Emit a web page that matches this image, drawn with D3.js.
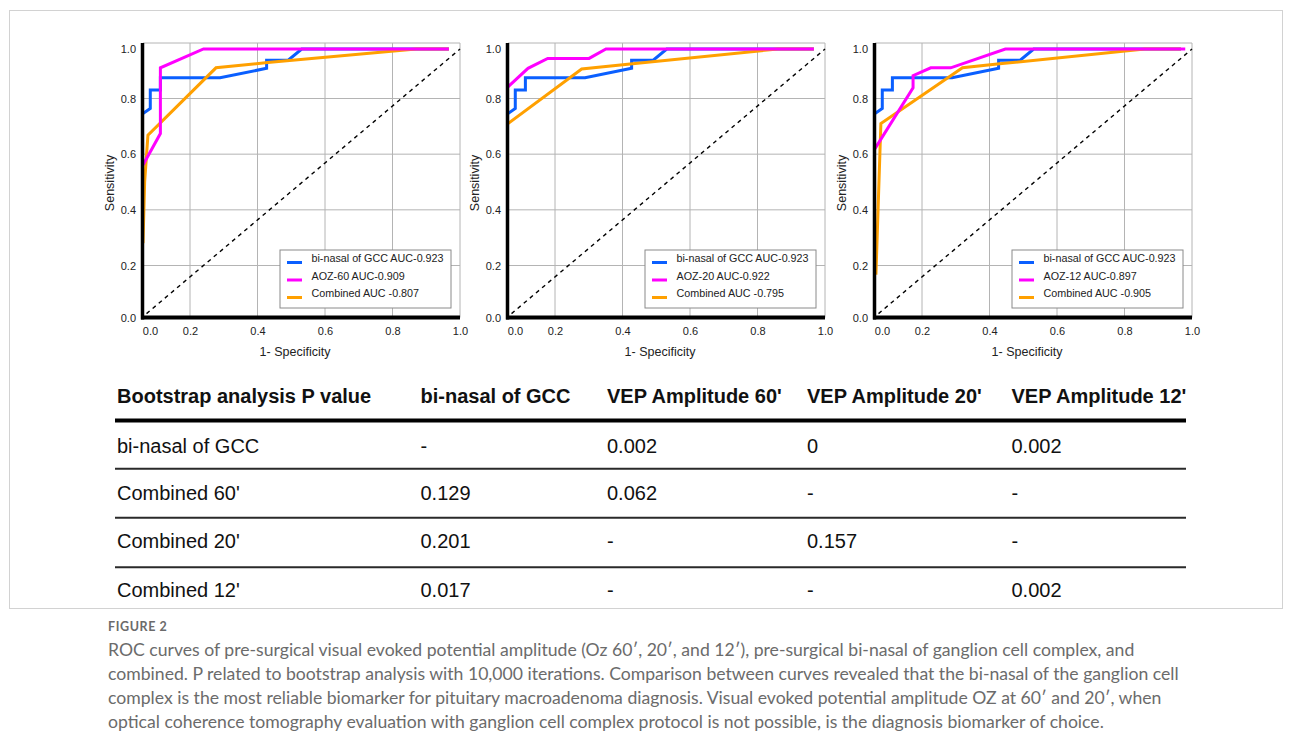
<!DOCTYPE html>
<html lang="en">
<head>
  <meta charset="UTF-8">
  <script src="https://d3js.org/d3.v7.min.js"></script>
  <title>ROC curves</title>
  <style>
    body { margin: 0; background: #fff; }
    text { font-family: "Liberation Sans", Arial, sans-serif; }
    text.caption { font-family: Lato, "Open Sans", sans-serif; }
  </style>
</head>
<body>
  <script>
    // ROC points [1 - specificity, sensitivity]
    const gccCurve = [[0, 0.746], [0.031, 0.764], [0.031, 0.834], [0.074, 0.834], [0.074, 0.884],
      [0.289, 0.884], [0.427, 0.922], [0.427, 0.955], [0.491, 0.955], [0.531, 1.0], [0.967, 1.0]]

    const aoz60Curve = [[0, 0.561], [0.074, 0.674], [0.074, 0.924], [0.24, 1.0], [0.967, 1.0]]
    const comb60Curve = [[0, 0.28], [0.007, 0.5], [0.021, 0.668], [0.277, 0.924], [0.43, 0.945],
      [0.87, 1.0], [0.967, 1.0]]

    const aoz20Curve = [[0, 0.847], [0.085, 0.922], [0.169, 0.962], [0.301, 0.962], [0.351, 1.0], [0.967, 1.0]]
    const comb20Curve = [[0, 0.71], [0.279, 0.919], [0.43, 0.94], [0.86, 1.0], [0.967, 1.0]]

    const aoz12Curve = [[0, 0.62], [0.162, 0.843], [0.162, 0.892], [0.226, 0.924], [0.285, 0.924],
      [0.447, 1.0], [0.98, 1.0]]
    const comb12Curve = [[0.004, 0.165], [0.025, 0.71], [0.32, 0.924], [0.43, 0.94], [0.86, 1.0], [0.967, 1.0]]

    const refLine = [[0.015, 0.015], [1, 1]]

    const legend60 = ["bi-nasal of GCC AUC-0.923", "AOZ-60 AUC-0.909", "Combined AUC -0.807"]
    const legend20 = ["bi-nasal of GCC AUC-0.923", "AOZ-20 AUC-0.922", "Combined AUC -0.795"]
    const legend12 = ["bi-nasal of GCC AUC-0.923", "AOZ-12 AUC-0.897", "Combined AUC -0.905"]

    const xTicks = [0, 0.2, 0.4, 0.6, 0.8, 1.0]
    const yTicks = [0, 0.2, 0.4, 0.6, 0.8, 1.0]
    const gridTicks = [0.2, 0.4, 0.6, 0.8]

    const tableHeader = ["Bootstrap analysis P value", "bi-nasal of GCC", "VEP Amplitude 60'", "VEP Amplitude 20'", "VEP Amplitude 12'"]
    const tableRows = [
      ["bi-nasal of GCC", "-", "0.002", "0", "0.002"],
      ["Combined 60'", "0.129", "0.062", "-", "-"],
      ["Combined 20'", "0.201", "-", "0.157", "-"],
      ["Combined 12'", "0.017", "-", "-", "0.002"]
    ]

    const figureLabel = "FIGURE 2"
    const captionLines = [
      "ROC curves of pre-surgical visual evoked potential amplitude (Oz 60\u2032, 20\u2032, and 12\u2032), pre-surgical bi-nasal of ganglion cell complex, and",
      "combined. P related to bootstrap analysis with 10,000 iterations. Comparison between curves revealed that the bi-nasal of the ganglion cell",
      "complex is the most reliable biomarker for pituitary macroadenoma diagnosis. Visual evoked potential amplitude OZ at 60\u2032 and 20\u2032, when",
      "optical coherence tomography evaluation with ganglion cell complex protocol is not possible, is the diagnosis biomarker of choice."
    ]

    const colors = { gcc: "#0a5fff", aoz: "#ff00ff", comb: "#ffa000" }

    const panels = [
      { left: 143, aoz: aoz60Curve, comb: comb60Curve, legend: legend60 },
      { left: 508, aoz: aoz20Curve, comb: comb20Curve, legend: legend20 },
      { left: 875, aoz: aoz12Curve, comb: comb12Curve, legend: legend12 }
    ]

    const width = 1292
    const height = 751

    const svg = d3.select("body")
        .append("svg")
        .attr("width", width)
        .attr("height", height)

    // light frame round the figure image
    svg.append("rect")
        .attr("x", 9.5).attr("y", 10.5)
        .attr("width", 1273).attr("height", 598)
        .attr("fill", "none")
        .attr("stroke", "#d2d2d2")

    // the original plot has a squeezed first interval on x and slightly short end intervals on y
    const yScale = d3.scaleLinear()
        .domain([0, 0.2, 0.8, 1, 1.025])
        .range([317.5, 265.5, 98.5, 49, 43])

    panels.forEach((p) => {
      const xScale = d3.scaleLinear()
          .domain([0, 0.2, 1])
          .range([p.left, p.left + 47, p.left + 317])

      const g = svg.append("g")
      const top = yScale(1.025)
      const bottom = yScale(0)
      const right = xScale(1)

      // grid
      g.selectAll(".vgrid")
        .data(gridTicks.concat([1]))
        .join("line")
          .attr("x1", d => xScale(d)).attr("x2", d => xScale(d))
          .attr("y1", top).attr("y2", bottom)
          .attr("stroke", "#b4b4b4")
          .attr("stroke-width", 1)

      g.selectAll(".hgrid")
        .data(gridTicks.concat([1.025]))
        .join("line")
          .attr("x1", xScale(0)).attr("x2", right)
          .attr("y1", d => yScale(d)).attr("y2", d => yScale(d))
          .attr("stroke", "#b4b4b4")
          .attr("stroke-width", 1)

      // tick labels
      const yAxis = g.append("g")
          .attr("transform", `translate(${xScale(0) - 2},0)`)
          .call(d3.axisLeft(yScale).tickValues(yTicks).tickFormat(d3.format(".1f")).tickSize(0).tickPadding(5))
      yAxis.select(".domain").remove()
      yAxis.selectAll("text")
          .attr("font-size", 11)
          .attr("fill", "#222")

      const xAxis = g.append("g")
          .attr("transform", `translate(0,${bottom + 2})`)
          .call(d3.axisBottom(xScale).tickValues(xTicks).tickFormat(d3.format(".1f")).tickSize(0).tickPadding(8))
      xAxis.select(".domain").remove()
      xAxis.selectAll("text")
          .attr("font-size", 11)
          .attr("fill", "#222")
          .attr("dx", d => d === 0 ? 7 : 0)

      // axis titles
      g.append("text")
          .attr("x", p.left + 152)
          .attr("y", 356)
          .attr("text-anchor", "middle")
          .attr("font-size", 12.5)
          .attr("fill", "#222")
          .text("1- Specificity")

      g.append("text")
          .attr("transform", `translate(${p.left - 29},${183}) rotate(-90)`)
          .attr("text-anchor", "middle")
          .attr("font-size", 12.5)
          .attr("fill", "#222")
          .text("Sensitivity")

      // chance line
      const line = d3.line()
          .x(d => xScale(d[0]))
          .y(d => yScale(d[1]))

      g.append("path")
          .attr("d", line(refLine))
          .attr("fill", "none")
          .attr("stroke", "#000")
          .attr("stroke-width", 1.4)
          .attr("stroke-dasharray", "4,4")

      // curves
      const curves = [
        { data: gccCurve, color: colors.gcc },
        { data: p.comb, color: colors.comb },
        { data: p.aoz, color: colors.aoz }
      ]
      g.selectAll(".curve")
        .data(curves)
        .join("path")
          .attr("d", d => line(d.data))
          .attr("fill", "none")
          .attr("stroke", d => d.color)
          .attr("stroke-width", 3)

      // black axis lines
      g.append("line")
          .attr("x1", xScale(0) - 0.5).attr("x2", xScale(0) - 0.5)
          .attr("y1", top).attr("y2", bottom + 2)
          .attr("stroke", "#000")
          .attr("stroke-width", 3.5)
      g.append("line")
          .attr("x1", xScale(0) - 2).attr("x2", right)
          .attr("y1", bottom).attr("y2", bottom)
          .attr("stroke", "#000")
          .attr("stroke-width", 4)

      // legend
      const lg = g.append("g")
          .attr("transform", `translate(${p.left + 137},250)`)
      lg.append("rect")
          .attr("width", 171).attr("height", 58)
          .attr("fill", "#fff")
          .attr("stroke", "#8a8a8a")
          .attr("stroke-width", 1)
      const legendColors = [colors.gcc, colors.aoz, colors.comb]
      const items = lg.selectAll(".item")
        .data(p.legend)
        .join("g")
          .attr("transform", (d, i) => `translate(0,${12 + i * 17.5})`)
      items.append("line")
          .attr("x1", 7).attr("x2", 22)
          .attr("y1", 0.5).attr("y2", 0.5)
          .attr("stroke", (d, i) => legendColors[i])
          .attr("stroke-width", 3)
      items.append("text")
          .attr("x", 31.5)
          .attr("y", 0)
          .attr("font-size", 10.75)
          .attr("fill", "#222")
          .text(d => d)
    })

    // bootstrap table
    const colX = [117, 420.5, 607, 807, 1011.5]
    const rowBase = [453, 500, 548, 597]
    const ruleY = [468.8, 517.8, 567.2]

    svg.append("g")
      .selectAll("text")
      .data(tableHeader)
      .join("text")
        .attr("x", (d, i) => colX[i])
        .attr("y", 403)
        .attr("font-size", 20)
        .attr("font-weight", "bold")
        .attr("fill", "#111")
        .text(d => d)

    svg.append("line")
        .attr("x1", 115).attr("x2", 1186)
        .attr("y1", 420.5).attr("y2", 420.5)
        .attr("stroke", "#000")
        .attr("stroke-width", 4)

    svg.append("g")
      .selectAll("line")
      .data(ruleY)
      .join("line")
        .attr("x1", 115).attr("x2", 1186)
        .attr("y1", d => d).attr("y2", d => d)
        .attr("stroke", "#2a2a2a")
        .attr("stroke-width", 2)

    const rowsG = svg.append("g")
      .selectAll("g")
      .data(tableRows)
      .join("g")
    rowsG.selectAll("text")
      .data((row, r) => row.map(v => ({ v, r })))
      .join("text")
        .attr("x", (d, i) => colX[i])
        .attr("y", d => rowBase[d.r])
        .attr("font-size", 20)
        .attr("fill", "#111")
        .text(d => d.v)

    // caption
    svg.append("text")
        .attr("class", "caption")
        .attr("x", 108)
        .attr("y", 631)
        .attr("font-size", 12.5)
        .attr("font-weight", "bold")
        .attr("letter-spacing", 0.6)
        .attr("fill", "#6b6b6b")
        .text(figureLabel)

    const cap = svg.append("g")
      .selectAll("text")
      .data(captionLines)
      .join("text")
        .attr("class", "caption")
        .attr("x", 108)
        .attr("y", (d, i) => 656 + i * 24)
        .attr("font-size", 16)
        .attr("fill", "#6b6b6b")
        .text(d => d)

    // fit caption size to the first line width of the original (108 to 1135)
    const measured = cap.node().getComputedTextLength()
    const fitSize = 16 * 1027 / measured
    cap.attr("font-size", fitSize)
  </script>
</body>
</html>
